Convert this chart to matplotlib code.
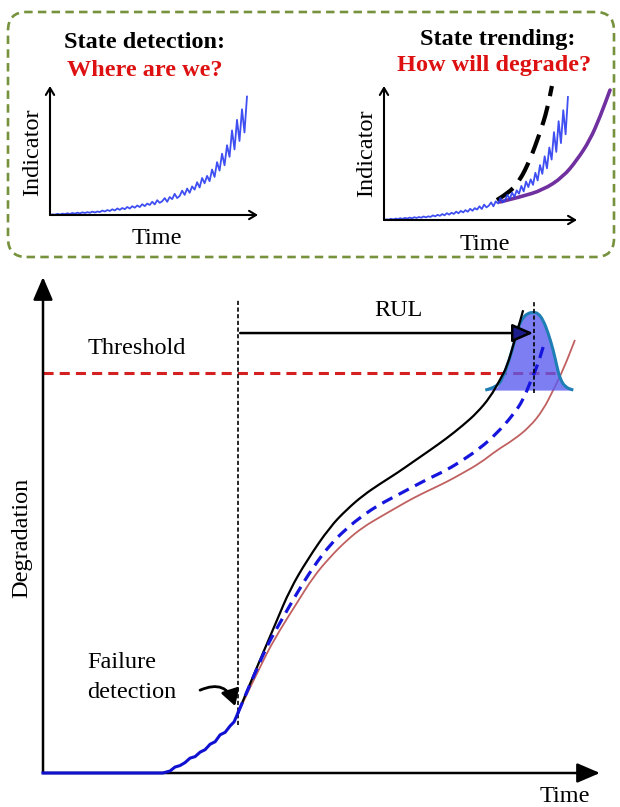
import numpy as np
import matplotlib
matplotlib.use("Agg")
import matplotlib.pyplot as plt
from matplotlib.patches import FancyBboxPatch, FancyArrowPatch, PathPatch
from matplotlib.path import Path

plt.rcParams['font.family'] = ['Liberation Serif', 'DejaVu Serif']

# ---------------- data ----------------
# early (measured) degradation up to failure detection
early_t = [0, 2.15, 2.28, 2.37, 2.46, 2.55, 2.64, 2.73, 2.82, 2.91, 3.0, 3.09, 3.18, 3.27, 3.36, 3.43, 3.5]
early_d = [0, 0, 0.04, 0.12, 0.15, 0.21, 0.30, 0.33, 0.42, 0.47, 0.58, 0.63, 0.77, 0.82, 0.95, 1.03, 1.21]
# black trajectory
true_t = [3.5, 3.72, 3.95, 4.20, 4.43, 4.74, 5.15, 5.46, 5.75, 6.05, 6.36, 6.64, 6.95, 7.25, 7.54, 7.79, 8.03, 8.20, 8.33, 8.47, 8.62]
true_d = [1.21, 1.81, 2.42, 3.08, 3.69, 4.29, 4.96, 5.32, 5.60, 5.83, 6.05, 6.27, 6.51, 6.75, 7.01, 7.26, 7.58, 7.92, 8.19, 8.73, 9.33]
# blue dashed predicted trajectory
pred_t = [3.5, 3.95, 4.25, 4.56, 4.85, 5.15, 5.46, 5.75, 6.05, 6.36, 6.64, 6.95, 7.25, 7.54, 7.85, 8.15, 8.44, 8.62, 8.74, 8.87, 8.98]
pred_d = [1.21, 2.42, 3.02, 3.63, 4.15, 4.60, 4.94, 5.20, 5.42, 5.60, 5.77, 5.95, 6.11, 6.31, 6.55, 6.85, 7.22, 7.52, 7.86, 8.19, 8.59]
# brown alternative trajectory
alt_t = [3.5, 3.95, 4.25, 4.56, 4.85, 5.15, 5.46, 5.75, 6.05, 6.36, 6.64, 6.95, 7.25, 7.54, 7.85, 8.15, 8.44, 8.74, 8.98, 9.16, 9.34, 9.55]
alt_d = [1.21, 2.28, 2.88, 3.43, 3.95, 4.35, 4.70, 4.96, 5.16, 5.36, 5.54, 5.71, 5.87, 6.05, 6.25, 6.51, 6.71, 6.98, 7.32, 7.72, 8.13, 8.73]
threshold = 8.06
failure_time = 3.5
eol_time = 8.82
# RUL distribution
pdf_t = [7.94, 8.15, 8.26, 8.35, 8.44, 8.53, 8.62, 8.71, 8.80, 8.89, 8.98, 9.07, 9.16, 9.23, 9.28, 9.37, 9.52]
pdf_h = [0, 0.06, 0.26, 0.54, 0.87, 1.27, 1.47, 1.55, 1.57, 1.55, 1.41, 1.15, 0.81, 0.46, 0.24, 0.06, 0]
pdf_base = 7.72

# inset health indicator signal
indicator = [0, 0.6, 0.3, 1.1, 0.5, 1.3, 0.9, 1.6, 1.0, 1.9, 1.3, 2.2, 1.5, 2.5, 1.9, 2.7, 2.1, 3.2, 2.4, 3.3,
             2.8, 4.2, 3.3, 4.7, 3.8, 5.4, 4.3, 6.2, 4.9, 6.6, 5.5, 7.6, 6.1, 8.3, 6.9, 9.0, 7.5, 10.2, 8.4, 10.8,
             9.5, 12.5, 10.0, 14.0, 11.5, 13.0, 16.0, 12.5, 17.0, 15.0, 20.0, 16.0, 18.0, 23.0, 19.0, 25.0, 21.0, 27.0, 24.0, 31.0,
             26, 35, 30, 37, 32, 43, 36, 50, 42, 58, 47, 66, 55, 80, 62, 90, 70, 100, 78, 112]
fast_t = [0.585, 0.653, 0.705, 0.756, 0.808, 0.845, 0.870]
fast_y = [18.2, 25.5, 36.4, 54.6, 79.2, 100.1, 122.0]
slow_t = [0.601, 0.705, 0.824, 0.927, 1.0, 1.067, 1.119, 1.171]
slow_y = [16.4, 20.9, 27.3, 39.1, 54.6, 72.8, 93.7, 118.3]

# ---------------- figure ----------------
W, H = 620, 807
fig = plt.figure(figsize=(W / 100, H / 100), dpi=100)


def fx(x):
    return x / W


def fy(y):
    return 1 - y / H


def smooth(ax, xs, ys, **kw):
    """Draw a smooth curve using the points as quadratic Bezier controls."""
    verts = [(xs[0], ys[0])]
    codes = [Path.MOVETO]
    for i in range(1, len(xs) - 1):
        verts.append((xs[i], ys[i]))
        verts.append(((xs[i] + xs[i + 1]) / 2, (ys[i] + ys[i + 1]) / 2))
        codes += [Path.CURVE3, Path.CURVE3]
    verts.append((xs[-1], ys[-1]))
    codes.append(Path.LINETO)
    patch = PathPatch(Path(verts, codes), fill=False, **kw)
    ax.add_patch(patch)
    return patch


FS = 17.5

# dashed rounded box
box = FancyBboxPatch((fx(8), fy(257)), fx(606), (257 - 12) / H,
                     boxstyle="round,pad=0,rounding_size=0.03",
                     transform=fig.transFigure, fill=False, ec='#76923c',
                     lw=1.9, ls=(0, (3.2, 2.0)), mutation_aspect=W / H)
fig.add_artist(box)


# ---- insets ----
def inset(left_px, bottom_px, right_px, top_px, sig_end):
    ax = fig.add_axes([fx(left_px), fy(bottom_px), (right_px - left_px) / W, (bottom_px - top_px) / H])
    ax.set_xlim(0, 1)
    ax.set_ylim(0, 122)
    ax.axis('off')
    ts = np.linspace(0, sig_end, len(indicator))
    ax.plot(ts, indicator, color='#2a3cf0', lw=1.3, alpha=0.9)
    ax.annotate('', xy=(1, 0), xytext=(0, 0), xycoords='axes fraction',
                arrowprops=dict(arrowstyle='->,head_length=0.5,head_width=0.3', lw=1.5, color='black',
                                shrinkA=0, shrinkB=0), annotation_clip=False)
    ax.annotate('', xy=(0, 1), xytext=(0, 0), xycoords='axes fraction',
                arrowprops=dict(arrowstyle='->,head_length=0.5,head_width=0.3', lw=1.5, color='black',
                                shrinkA=0, shrinkB=0), annotation_clip=False)
    return ax


axl = inset(50, 215, 258, 86, 0.947)
axr = inset(384, 220, 577, 86, 0.953)
smooth(axr, slow_t, slow_y, ec='#7030a0', lw=2.6, clip_on=False, capstyle='round')
smooth(axr, fast_t, fast_y, ec='black', lw=3.0, ls=(0, (4.8, 2.4)), clip_on=False)

fig.text(fx(145), fy(42), 'State detection:', ha='center', va='center', fontsize=FS, fontweight='bold')
fig.text(fx(145), fy(71), 'Where are we?', ha='center', va='center', fontsize=FS, fontweight='bold', color='#dd1111')
fig.text(fx(498), fy(40), 'State trending:', ha='center', va='center', fontsize=FS, fontweight='bold')
fig.text(fx(494), fy(65), 'How will degrade?', ha='center', va='center', fontsize=FS, fontweight='bold', color='#dd1111')
fig.text(fx(33), fy(152), 'Indicator', ha='center', va='center', fontsize=FS, rotation=90)
fig.text(fx(157), fy(238), 'Time', ha='center', va='center', fontsize=FS)
fig.text(fx(367), fy(153), 'Indicator', ha='center', va='center', fontsize=FS, rotation=90)
fig.text(fx(485), fy(245), 'Time', ha='center', va='center', fontsize=FS)

# ---- main chart ----
ax = fig.add_axes([fx(43), fy(773), (600 - 43) / W, (773 - 277) / H])
ax.set_xlim(0, 10)
ax.set_ylim(0, 10)
ax.axis('off')

arrow_kw = dict(arrowstyle='-|>,head_length=0.7,head_width=0.3', lw=1.8, color='black',
                shrinkA=0, shrinkB=0, mutation_scale=20)
ax.annotate('', xy=(10, 0), xytext=(0, 0), arrowprops=arrow_kw, annotation_clip=False)
ax.annotate('', xy=(0, 10), xytext=(0, 0), arrowprops=arrow_kw, annotation_clip=False)

# threshold
ax.plot([0, 9.28], [threshold, threshold], color='#d42020', lw=2.2, ls=(0, (3.3, 2.0)), zorder=2)

# trajectories
smooth(ax, alt_t, alt_d, ec='#c06060', lw=1.3, zorder=3)

# RUL pdf (semi-transparent over threshold)
pdf_top = [pdf_base + h for h in pdf_h]
ax.fill_between(pdf_t, pdf_base, pdf_top, color='#5a5af0', alpha=0.78, lw=0, zorder=4)
smooth(ax, pdf_t, pdf_top, ec='#1f7fb4', lw=2.2, zorder=4)

smooth(ax, true_t, true_d, ec='black', lw=1.6, zorder=5)
smooth(ax, pred_t, pred_d, ec='#1515dd', lw=2.3, ls=(0, (3.6, 2.2)), zorder=5)
ax.plot(early_t, early_d, color='#1010d0', lw=2.2, zorder=5, clip_on=False)

# vertical dashed markers
ax.plot([failure_time, failure_time], [0.97, 9.54], color='black', lw=1.2, ls=(0, (2.5, 1.5)), zorder=4)
ax.plot([eol_time, eol_time], [7.66, 9.50], color='black', lw=1.2, ls=(0, (2.5, 1.5)), zorder=6)

# RUL arrow
rul = FancyArrowPatch((failure_time + 0.04, 8.87), (8.80, 8.87),
                      arrowstyle='-|>,head_length=0.8,head_width=0.35', mutation_scale=16,
                      lw=1.8, ec='black', fc='#1c1c8c', shrinkA=0, shrinkB=0, zorder=7)
ax.add_patch(rul)

# failure detection arrow
fd = FancyArrowPatch((2.82, 1.67), (3.45, 1.35), connectionstyle='arc3,rad=-0.55',
                     arrowstyle='-|>,head_length=0.6,head_width=0.35', mutation_scale=16,
                     lw=2.0, color='black', shrinkA=0, shrinkB=0, zorder=7)
ax.add_patch(fd)

fig.text(fx(137), fy(349), 'Threshold', ha='center', va='center', fontsize=FS)
fig.text(fx(398), fy(311), 'RUL', ha='center', va='center', fontsize=FS)
fig.text(fx(22), fy(538), 'Degradation', ha='center', va='center', fontsize=FS, rotation=90)
fig.text(fx(87), fy(663), 'Failure', ha='left', va='center', fontsize=FS)
fig.text(fx(87), fy(692), 'detection', ha='left', va='center', fontsize=FS)
fig.text(fx(565), fy(797), 'Time', ha='center', va='center', fontsize=FS)

fig.savefig('out.png', dpi=100)
